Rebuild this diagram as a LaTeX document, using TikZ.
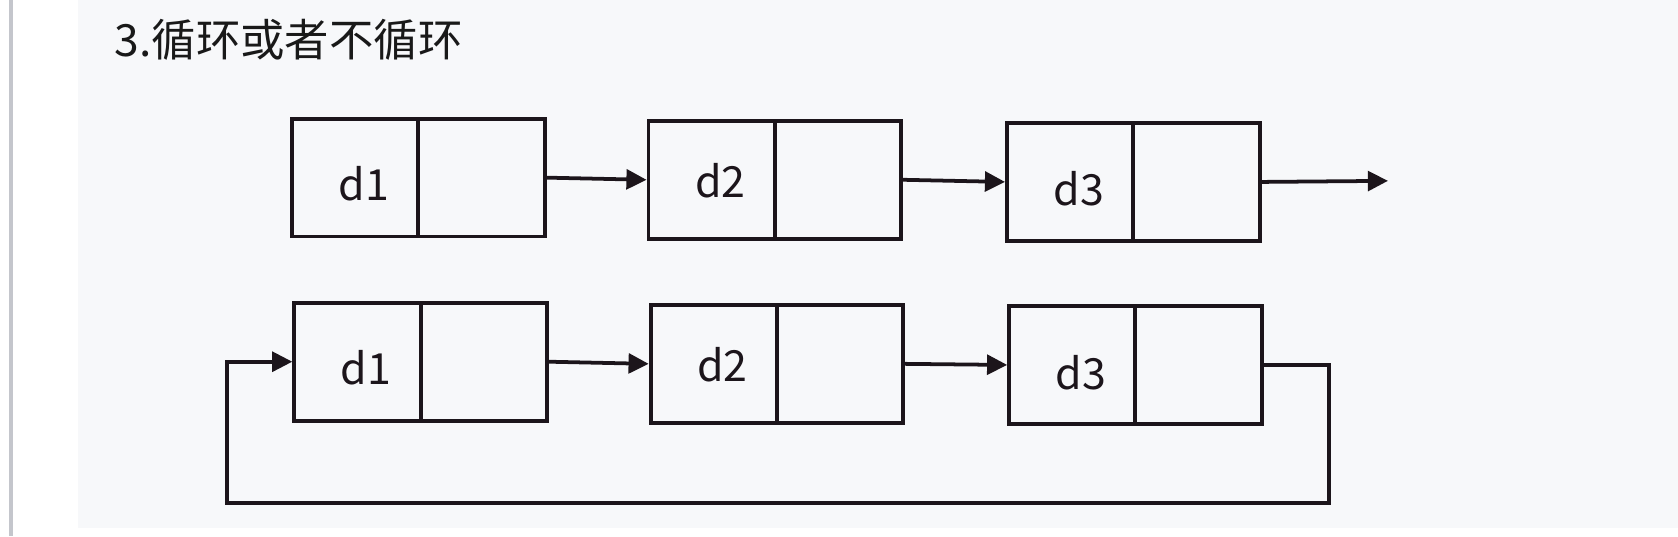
\documentclass[tikz,border=0pt]{standalone}
\usepackage{fontspec}
\setmainfont{Noto Sans CJK SC}
\usetikzlibrary{arrows.meta}

\definecolor{panelbg}{HTML}{F7F8FA}
\definecolor{sidebar}{HTML}{C4C6CC}
\definecolor{inkline}{HTML}{1C151B}

\begin{document}
\begin{tikzpicture}[x=0.025cm,y=-0.025cm]
\tikzset{
  cell/.style={rectangle,draw=inkline,line width=2.6pt,minimum width=2.95cm,minimum height=2.75cm,inner sep=0pt},
  celltext/.style={inner sep=0pt,text=inkline,font=\fontsize{28.5}{32}\selectfont},
  link/.style={-{Triangle[length=0.47cm,width=0.46cm]},draw=inkline,line width=2.5pt,line join=miter}
}
\useasboundingbox (0,0) rectangle (1568,501);
\fill[white] (0,0) rectangle (1568,501);
\fill[panelbg] (73,0) rectangle (1568,493);
\fill[sidebar] (8,0) rectangle (12,501);
\node[anchor=west,inner sep=0pt,text=black!90,font=\fontsize{29.5}{34}\selectfont] (title) at (107,37) {3.循环或者不循环};
\node[cell] (n_d1) at (332,166) {};
\node[cell] (n_d1p) at (450,166) {};
\node[cell] (n_d2) at (665,168) {};
\node[cell] (n_d2p) at (783,168) {};
\node[cell] (n_d3) at (1000,170) {};
\node[cell] (n_d3p) at (1118,170) {};
\node[celltext] (t_d1) at (340,172) {d1};
\node[celltext] (t_d2) at (673,169) {d2};
\node[celltext] (t_d3) at (1008,176) {d3};
\coordinate (c_end) at (1297,169);
\draw[link] (n_d1p.east) -- (n_d2.west);
\draw[link] (n_d2p.east) -- (n_d3.west);
\draw[link] (n_d3p.east) -- (c_end);
\node[cell] (m_d1) at (334,338) {};
\node[cell] (m_d1p) at (452,338) {};
\node[cell] (m_d2) at (667,340) {};
\node[cell] (m_d2p) at (785,340) {};
\node[cell] (m_d3) at (1002,341) {};
\node[cell] (m_d3p) at (1120,341) {};
\node[celltext] (u_d1) at (342,344) {d1};
\node[celltext] (u_d2) at (675,341) {d2};
\node[celltext] (u_d3) at (1010,348) {d3};
\coordinate (c_loopr) at (1242,470);
\coordinate (c_loopl) at (212,470);
\draw[link] (m_d1p.east) -- (m_d2.west);
\draw[link] (m_d2p.east) -- (m_d3.west);
\draw[link] (m_d3p.east) -| (c_loopr) -- (c_loopl) |- (m_d1.west);
\end{tikzpicture}
\end{document}
